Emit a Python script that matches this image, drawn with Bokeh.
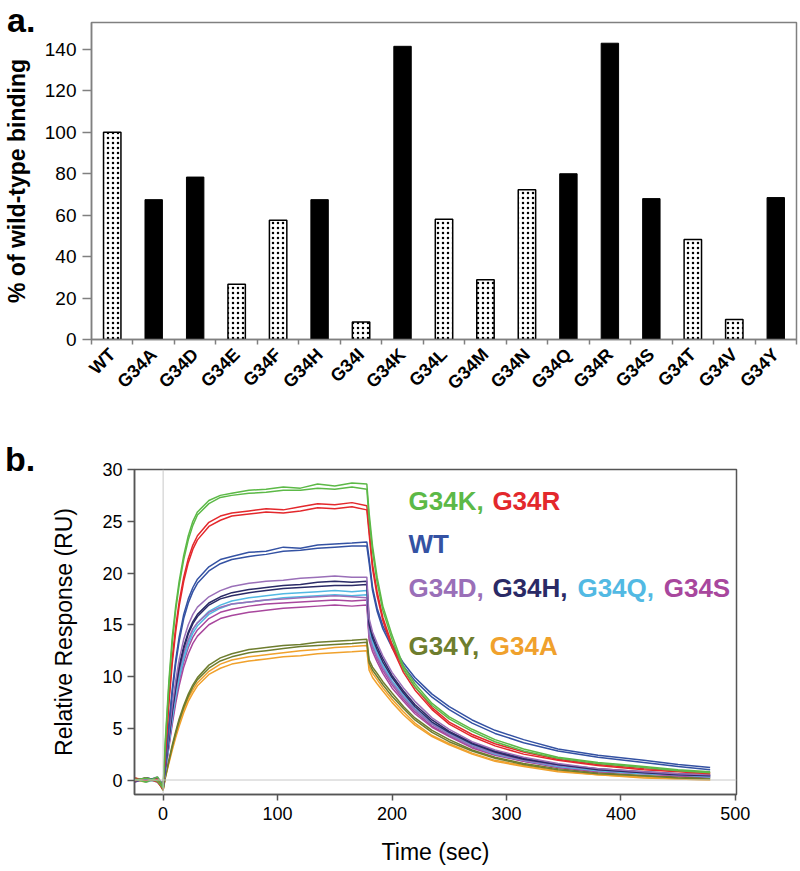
from bokeh.plotting import figure
from bokeh.models import Range1d, FixedTicker, Span, ColumnDataSource, Div
from bokeh.embed import file_html
from bokeh.resources import INLINE
from bokeh.core.properties import value

FONT = "Liberation Sans"

# ---------------- panel a data ----------------
variants = ["WT", "G34A", "G34D", "G34E", "G34F", "G34H", "G34I", "G34K", "G34L",
            "G34M", "G34N", "G34Q", "G34R", "G34S", "G34T", "G34V", "G34Y"]
binding = [100.0, 67.5, 78.4, 26.7, 57.5, 67.5, 8.4, 141.5, 58.0,
           28.8, 72.3, 80.0, 143.0, 68.0, 48.3, 9.7, 68.5]
dotted_variants = ["WT", "G34E", "G34F", "G34I", "G34L", "G34M", "G34N", "G34T", "G34V"]
y_ticks_a = [0, 20, 40, 60, 80, 100, 120, 140]

# ---------------- panel b data ----------------
time_s = [-25, -15, -5, 0, 2, 5, 8, 11, 14, 18, 22, 26, 30, 40, 50, 60, 75, 90, 105, 120,
          135, 150, 165, 178, 180, 183, 187, 192, 200, 210, 220, 235, 250, 270, 290, 315,
          345, 380, 420, 450, 478]

K1 = [0.1, -0.2, 0.3, -0.6, 4.0, 9.5, 13.8, 16.8, 19.2, 21.7, 23.6, 25.0, 25.9, 27.0, 27.5, 27.7, 28.0, 28.1, 28.3, 28.2, 28.6, 28.4, 28.7, 28.6, 25.8, 22.6, 19.6, 16.8, 14.0, 11.0, 9.3, 7.4, 6.1, 4.9, 3.9, 3.0, 2.2, 1.7, 1.3, 1.0, 0.8]
K2 = [0.0, 0.2, -0.1, -0.8, 3.6, 9.0, 13.3, 16.4, 18.8, 21.3, 23.2, 24.6, 25.6, 26.7, 27.3, 27.5, 27.7, 27.8, 28.0, 28.0, 28.2, 28.1, 28.3, 28.1, 25.2, 22.1, 19.1, 16.4, 13.6, 10.7, 9.0, 7.2, 5.9, 4.7, 3.7, 2.8, 2.1, 1.6, 1.2, 0.9, 0.7]
R1 = [0.2, -0.1, 0.1, -0.7, 2.8, 7.8, 11.8, 14.8, 17.2, 19.6, 21.4, 22.7, 23.6, 24.9, 25.5, 25.8, 26.0, 26.2, 26.1, 26.4, 26.7, 26.6, 26.8, 26.5, 24.2, 20.8, 18.2, 15.7, 13.1, 10.7, 9.0, 7.0, 5.6, 4.4, 3.5, 2.7, 2.0, 1.5, 1.1, 0.9, 0.7]
R2 = [-0.1, 0.2, -0.2, -0.9, 2.5, 7.3, 11.3, 14.3, 16.8, 19.2, 21.0, 22.3, 23.2, 24.5, 25.1, 25.5, 25.7, 25.9, 25.8, 26.0, 26.3, 26.2, 26.4, 26.1, 23.8, 20.4, 17.8, 15.4, 12.8, 10.4, 8.7, 6.8, 5.4, 4.2, 3.3, 2.5, 1.9, 1.4, 1.0, 0.8, 0.6]
WT1 = [0.1, 0.0, 0.2, -0.5, 1.8, 5.4, 8.8, 11.6, 13.8, 16.0, 17.5, 18.6, 19.4, 20.6, 21.3, 21.6, 22.0, 22.1, 22.5, 22.4, 22.7, 22.8, 22.9, 23.0, 21.4, 18.6, 16.6, 14.9, 13.1, 11.3, 9.9, 8.3, 7.1, 5.8, 4.8, 3.9, 3.0, 2.4, 1.9, 1.5, 1.2]
WT2 = [-0.2, 0.2, 0.0, -0.7, 1.5, 5.0, 8.4, 11.2, 13.4, 15.6, 17.1, 18.2, 19.0, 20.2, 20.9, 21.3, 21.6, 21.8, 22.1, 22.2, 22.4, 22.5, 22.6, 22.6, 21.0, 18.3, 16.3, 14.6, 12.8, 11.0, 9.6, 8.0, 6.8, 5.5, 4.5, 3.6, 2.8, 2.2, 1.7, 1.3, 1.0]
D1 = [0.2, -0.1, 0.3, -0.4, 1.4, 4.4, 7.2, 9.6, 11.6, 13.6, 15.0, 16.0, 16.7, 17.7, 18.3, 18.7, 19.0, 19.2, 19.3, 19.5, 19.6, 19.7, 19.6, 19.6, 15.6, 14.3, 13.2, 12.0, 10.4, 8.9, 7.6, 6.0, 4.9, 3.7, 2.9, 2.2, 1.6, 1.1, 0.8, 0.6, 0.5]
D2 = [0.0, 0.2, -0.1, -0.6, 1.1, 3.9, 6.5, 8.7, 10.5, 12.3, 13.6, 14.6, 15.2, 16.2, 16.7, 17.0, 17.2, 17.4, 17.5, 17.6, 17.7, 17.8, 17.7, 17.6, 14.0, 12.9, 11.9, 10.8, 9.4, 8.0, 6.8, 5.4, 4.4, 3.3, 2.6, 1.9, 1.4, 1.0, 0.7, 0.5, 0.4]
H1 = [0.1, 0.0, 0.2, -0.5, 1.3, 4.1, 6.8, 9.1, 11.0, 12.9, 14.3, 15.3, 16.0, 17.1, 17.7, 18.1, 18.4, 18.6, 18.8, 18.9, 19.1, 19.2, 19.1, 19.2, 15.3, 14.0, 12.9, 11.7, 10.1, 8.6, 7.3, 5.8, 4.7, 3.6, 2.8, 2.1, 1.5, 1.1, 0.8, 0.6, 0.5]
H2 = [-0.1, 0.2, 0.0, -0.7, 1.2, 3.9, 6.6, 8.9, 10.8, 12.7, 14.1, 15.1, 15.8, 16.9, 17.5, 17.8, 18.1, 18.3, 18.5, 18.6, 18.7, 18.8, 18.8, 18.9, 15.0, 13.7, 12.6, 11.4, 9.9, 8.4, 7.1, 5.6, 4.6, 3.5, 2.7, 2.0, 1.5, 1.0, 0.7, 0.5, 0.4]
Q1 = [0.2, -0.2, 0.1, -0.6, 1.0, 3.6, 6.1, 8.3, 10.1, 12.0, 13.4, 14.5, 15.2, 16.3, 16.9, 17.3, 17.6, 17.8, 18.0, 18.1, 18.2, 18.3, 18.2, 18.3, 14.6, 13.4, 12.3, 11.1, 9.6, 8.2, 6.9, 5.5, 4.5, 3.4, 2.6, 1.9, 1.4, 1.0, 0.7, 0.5, 0.4]
Q2 = [0.0, 0.1, -0.2, -0.8, 0.9, 3.4, 5.9, 8.0, 9.8, 11.7, 13.1, 14.2, 14.9, 16.0, 16.6, 17.0, 17.2, 17.4, 17.6, 17.7, 17.8, 17.9, 17.8, 17.9, 14.3, 13.1, 12.0, 10.9, 9.4, 8.0, 6.8, 5.4, 4.4, 3.3, 2.5, 1.9, 1.3, 0.9, 0.6, 0.5, 0.3]
S1 = [0.1, 0.0, 0.2, -0.5, 0.9, 3.3, 5.7, 7.8, 9.6, 11.4, 12.8, 13.8, 14.5, 15.6, 16.2, 16.5, 16.8, 17.0, 17.1, 17.2, 17.3, 17.4, 17.3, 17.4, 13.9, 12.8, 11.7, 10.6, 9.2, 7.8, 6.6, 5.2, 4.3, 3.2, 2.5, 1.8, 1.3, 0.9, 0.6, 0.4, 0.3]
S2 = [-0.2, 0.1, 0.0, -0.7, 0.8, 3.1, 5.4, 7.4, 9.1, 10.9, 12.2, 13.2, 13.9, 15.0, 15.6, 15.9, 16.2, 16.4, 16.6, 16.7, 16.8, 16.9, 16.8, 16.9, 13.5, 12.4, 11.4, 10.3, 8.9, 7.6, 6.4, 5.1, 4.2, 3.1, 2.4, 1.8, 1.2, 0.8, 0.6, 0.4, 0.3]
Y1 = [0.1, -0.1, 0.2, -0.9, 0.4, 1.9, 3.4, 4.7, 5.9, 7.2, 8.3, 9.2, 9.9, 11.1, 11.8, 12.2, 12.6, 12.8, 13.0, 13.1, 13.3, 13.4, 13.5, 13.6, 11.6, 10.9, 10.3, 9.5, 8.4, 7.1, 6.0, 4.8, 3.9, 2.9, 2.2, 1.6, 1.1, 0.7, 0.4, 0.3, 0.2]
Y2 = [-0.1, 0.2, 0.0, -1.0, 0.3, 1.8, 3.2, 4.5, 5.7, 7.0, 8.1, 9.0, 9.7, 10.8, 11.5, 11.9, 12.3, 12.5, 12.7, 12.9, 13.0, 13.1, 13.2, 13.3, 11.3, 10.6, 10.0, 9.2, 8.1, 6.9, 5.8, 4.6, 3.7, 2.8, 2.1, 1.5, 1.0, 0.6, 0.4, 0.2, 0.1]
A1 = [0.2, 0.0, -0.1, -0.8, 0.3, 1.7, 3.1, 4.3, 5.5, 6.8, 7.9, 8.7, 9.4, 10.5, 11.2, 11.6, 11.9, 12.1, 12.3, 12.5, 12.6, 12.8, 12.9, 13.0, 11.0, 10.3, 9.7, 8.9, 7.8, 6.6, 5.5, 4.3, 3.5, 2.6, 1.9, 1.4, 0.9, 0.5, 0.3, 0.1, 0.0]
A2 = [0.0, -0.2, 0.1, -1.0, 0.2, 1.6, 2.9, 4.1, 5.2, 6.5, 7.6, 8.4, 9.1, 10.2, 10.8, 11.2, 11.5, 11.7, 11.9, 12.0, 12.2, 12.3, 12.4, 12.5, 10.6, 9.9, 9.3, 8.6, 7.5, 6.3, 5.3, 4.2, 3.4, 2.5, 1.8, 1.3, 0.8, 0.5, 0.2, 0.1, 0.0]

series_colors = {
    "G34K": "#5cb947", "G34R": "#e3282c", "WT": "#3452a3",
    "G34D": "#9a6fb8", "G34H": "#2a2a66", "G34Q": "#52b9e3", "G34S": "#a8479d",
    "G34Y": "#6e7d2e", "G34A": "#f0a12c",
}
curves = [("G34A", A1), ("G34A", A2), ("G34Y", Y1), ("G34Y", Y2),
          ("G34S", S1), ("G34S", S2), ("G34Q", Q1), ("G34Q", Q2),
          ("G34D", D2), ("G34H", H2), ("G34H", H1), ("G34D", D1),
          ("WT", WT1), ("WT", WT2), ("G34R", R1), ("G34R", R2),
          ("G34K", K1), ("G34K", K2)]

legend_text = ["G34K, ", "G34R", "WT", "G34D, ", "G34H, ", "G34Q, ", "G34S", "G34Y, ", "G34A"]
legend_key = ["G34K", "G34R", "WT", "G34D", "G34H", "G34Q", "G34S", "G34Y", "G34A"]
legend_x = [214.4, 287.7, 214.4, 214.4, 287.7, 362.0, 437.4, 214.4, 285.4]
legend_y = [27.0, 27.0, 22.85, 18.55, 18.55, 18.55, 18.55, 12.9, 12.9]

x_ticks_b = [0, 100, 200, 300, 400, 500]
y_ticks_b = [0, 5, 10, 15, 20, 25, 30]

GRAY = "#808080"

# ---------------- panel letters ----------------
letter_style = {"position": "absolute", "margin": "0", "padding": "0",
                "font-family": "'Liberation Sans', Arial, sans-serif", "font-weight": "bold",
                "font-size": "34px", "line-height": "34px", "color": "black", "z-index": "10"}
div_a = Div(text="a.", width=40, height=34, styles=dict(letter_style, left="7px", top="3px"))
div_b = Div(text="b.", width=40, height=34, styles=dict(letter_style, left="5px", top="442px"))

# ---------------- panel a ----------------
n = len(variants)
pa = figure(width=800, height=440, x_range=Range1d(0, n), y_range=Range1d(0, 153),
            output_backend="svg", toolbar_location=None,
            min_border_left=89, min_border_right=4, min_border_top=22, min_border_bottom=101)
pa.xgrid.visible = False
pa.ygrid.visible = False
pa.outline_line_color = GRAY
pa.outline_line_width = 1.5

centers = [i + 0.5 for i in range(n)]
dx = [c for c, v in zip(centers, variants) if v in dotted_variants]
dy = [b for b, v in zip(binding, variants) if v in dotted_variants]
sx = [c for c, v in zip(centers, variants) if v not in dotted_variants]
sy = [b for b, v in zip(binding, variants) if v not in dotted_variants]

pa.vbar(x=dx, top=dy, bottom=0, width=0.42, fill_color="white", line_color="black",
        line_width=1.5, hatch_pattern="dot", hatch_color="black", hatch_scale=5, hatch_weight=1.2)
pa.vbar(x=sx, top=sy, bottom=0, width=0.42, fill_color="black", line_color="black", line_width=1)

pa.xaxis.ticker = FixedTicker(ticks=centers, minor_ticks=list(range(n + 1)))
pa.xaxis.major_label_overrides = {c: v for c, v in zip(centers, variants)}
pa.xaxis.major_tick_line_color = None
pa.xaxis.minor_tick_line_color = GRAY
pa.xaxis.minor_tick_line_width = 1.5
pa.xaxis.minor_tick_out = 5
pa.xaxis.minor_tick_in = 0
pa.xaxis.major_label_orientation = 0.785
pa.xaxis.major_label_text_font = FONT
pa.xaxis.major_label_text_font_size = "18px"
pa.xaxis.major_label_text_font_style = "bold"
pa.xaxis.major_label_text_color = "black"
pa.xaxis.major_label_standoff = 6
pa.xaxis.axis_line_color = GRAY
pa.xaxis.axis_line_width = 1.5

pa.yaxis.ticker = FixedTicker(ticks=y_ticks_a)
pa.yaxis.minor_tick_line_color = None
pa.yaxis.major_tick_out = 9
pa.yaxis.major_tick_in = 0
pa.yaxis.major_tick_line_color = GRAY
pa.yaxis.major_tick_line_width = 1.5
pa.yaxis.axis_line_color = GRAY
pa.yaxis.axis_line_width = 1.5
pa.yaxis.major_label_text_font = FONT
pa.yaxis.major_label_text_font_size = "19px"
pa.yaxis.major_label_text_color = "black"
pa.yaxis.major_label_standoff = 6
pa.yaxis.axis_label = "% of wild-type binding"
pa.yaxis.axis_label_text_font = FONT
pa.yaxis.axis_label_text_font_size = "23px"
pa.yaxis.axis_label_text_font_style = "bold"
pa.yaxis.axis_label_text_color = "black"
pa.yaxis.axis_label_standoff = 12

# ---------------- panel b ----------------
pb = figure(width=800, height=431, x_range=Range1d(-25, 501), y_range=Range1d(-1.4, 30),
            output_backend="svg", toolbar_location=None,
            min_border_left=134, min_border_right=64, min_border_top=29, min_border_bottom=77)
pb.xgrid.visible = False
pb.ygrid.visible = False
pb.outline_line_color = "#555555"
pb.outline_line_width = 1.5

pb.add_layout(Span(location=0, dimension="height", line_color="#c8c8c8", line_width=1))
pb.add_layout(Span(location=0, dimension="width", line_color="#c8c8c8", line_width=1))

for key, vals in curves:
    pb.line(time_s, vals, line_color=series_colors[key], line_width=1.5)

src = ColumnDataSource(dict(x=legend_x, y=legend_y, text=legend_text,
                            color=[series_colors[k] for k in legend_key]))
pb.text(x="x", y="y", text="text", source=src, text_color="color",
        text_font=value(FONT), text_font_size="26px", text_font_style="bold",
        text_baseline="middle", text_align="left")

for ax in (pb.xaxis, pb.yaxis):
    ax.axis_line_color = "#555555"
    ax.axis_line_width = 1.5
    ax.major_tick_line_color = "#555555"
    ax.major_tick_line_width = 1.5
    ax.major_tick_in = 0
    ax.minor_tick_line_color = None
    ax.major_label_text_font = FONT
    ax.major_label_text_font_size = "18px"
    ax.major_label_text_color = "black"
    ax.axis_label_text_font = FONT
    ax.axis_label_text_font_size = "23px"
    ax.axis_label_text_font_style = "normal"
    ax.axis_label_text_color = "black"

pb.xaxis.ticker = FixedTicker(ticks=x_ticks_b)
pb.yaxis.ticker = FixedTicker(ticks=y_ticks_b)
pb.xaxis.major_tick_out = 6
pb.yaxis.major_tick_out = 7
pb.xaxis.major_label_standoff = 6
pb.yaxis.major_label_standoff = 5
pb.xaxis.axis_label = "Time (sec)"
pb.yaxis.axis_label = "Relative Response (RU)"
pb.xaxis.axis_label_standoff = 16
pb.yaxis.axis_label_standoff = 22

p = [pa, pb, div_a, div_b]
open("out.html", "w").write(file_html(p, INLINE))
